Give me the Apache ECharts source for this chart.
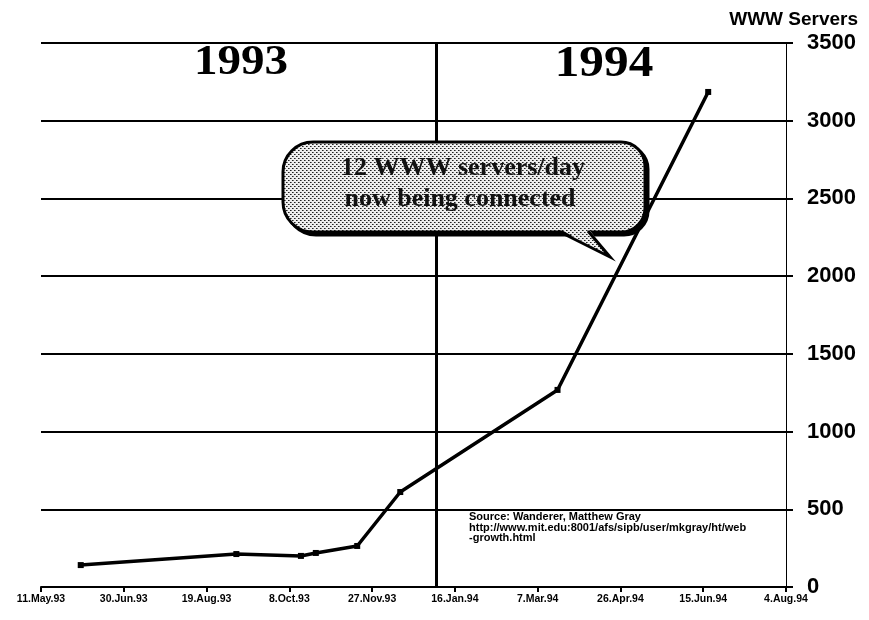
<!DOCTYPE html>
<html>
<head>
<meta charset="utf-8">
<script src="https://cdn.jsdelivr.net/npm/echarts@6/dist/echarts.min.js"></script>
<style>
  html, body { margin: 0; padding: 0; background: #fff; }
  #chart { width: 869px; height: 620px; }
</style>
</head>
<body>
<div id="chart"></div>
<script>
// WWW servers growth, 1993-1994 (Matthew Gray's Wanderer)
const startDate = '1993-05-11';
const pointDates = ['1993-06-04', '1993-09-06', '1993-10-15', '1993-10-24', '1993-11-18', '1993-12-14', '1994-03-19', '1994-06-18'];
const serverCounts = [141, 212, 200, 219, 264, 611, 1268, 3185];
const tickLabels = ['11.May.93', '30.Jun.93', '19.Aug.93', '8.Oct.93', '27.Nov.93', '16.Jan.94', '7.Mar.94', '26.Apr.94', '15.Jun.94', '4.Aug.94'];
const dividerDate = '1994-01-05';
const yearLabels = ['1993', '1994'];
const calloutLines = ['12 WWW servers/day', 'now being connected'];
const sourceLines = ['Source: Wanderer, Matthew Gray', 'http://www.mit.edu:8001/afs/sipb/user/mkgray/ht/web', '-growth.html'];

function dayOf(s) {
    const p = s.split('-').map(Number);
    const q = startDate.split('-').map(Number);
    return (Date.UTC(p[0], p[1] - 1, p[2]) - Date.UTC(q[0], q[1] - 1, q[2])) / 86400000;
}

// stippled fill for the speech bubble
function dotPattern() {
    const c = document.createElement('canvas');
    c.width = 4; c.height = 4;
    const ctx = c.getContext('2d');
    ctx.fillStyle = '#eeeeee';
    ctx.fillRect(0, 0, 4, 4);
    ctx.fillStyle = '#222';
    ctx.fillRect(0, 0, 1, 1);
    ctx.fillRect(2, 2, 1, 1);
    ctx.fillStyle = '#777';
    ctx.fillRect(1, 0, 1, 1);
    ctx.fillRect(3, 2, 1, 1);
    return { image: c, repeat: 'repeat' };
}

const chart = echarts.init(document.getElementById('chart'));
const seriesData = pointDates.map((d, i) => [dayOf(d), serverCounts[i]]);
const dots = dotPattern();

const bubbleRect = { x: 283, y: 142, width: 362, height: 90, r: [30, 24, 24, 30] };
const tailFill = [[558, 228], [610, 257], [588, 228]];
const tailEdge = [[558, 231], [610, 257], [588, 231]];

const option = {
    animation: false,
    backgroundColor: '#fff',
    grid: { left: 41, right: 83, top: 43, bottom: 33 },
    xAxis: {
        type: 'value',
        min: 0,
        max: 450,
        interval: 50,
        axisLine: { show: true, lineStyle: { color: '#000', width: 2 } },
        axisTick: { show: true, length: 5, lineStyle: { color: '#000', width: 2 } },
        splitLine: { show: false },
        axisLabel: {
            color: '#000',
            fontFamily: 'Liberation Sans',
            fontWeight: 'bold',
            fontSize: 10.5,
            margin: 7,
            formatter: v => tickLabels[Math.round(v / 50)] || ''
        }
    },
    yAxis: {
        type: 'value',
        position: 'right',
        min: 0,
        max: 3500,
        interval: 500,
        axisLine: { show: true, onZero: false, lineStyle: { color: '#000', width: 1 } },
        axisTick: { show: true, length: 7, lineStyle: { color: '#000', width: 2 } },
        splitLine: { show: true, lineStyle: { color: '#000', width: 2 } },
        axisLabel: {
            color: '#000',
            fontFamily: 'Liberation Sans',
            fontWeight: 'bold',
            fontSize: 22,
            margin: 21,
            formatter: v => String(v)
        }
    },
    series: [{
        type: 'line',
        data: seriesData,
        symbol: 'rect',
        symbolSize: 6,
        itemStyle: { color: '#000' },
        lineStyle: { color: '#000', width: 3.5 },
        markLine: {
            silent: true,
            symbol: 'none',
            label: { show: false },
            lineStyle: { color: '#000', width: 3, type: 'solid' },
            data: [{ xAxis: dayOf(dividerDate) }]
        },
        z: 3
    }],
    graphic: [
        {
            type: 'text', right: 11, top: 10,
            style: { text: 'WWW Servers', fill: '#000', font: 'bold 19px "Liberation Sans"' }
        },
        {
            type: 'text', x: 241, y: 63, scaleX: 1.12,
            style: { text: yearLabels[0], fill: '#000', font: 'bold 42px "Liberation Serif"', align: 'center', verticalAlign: 'middle' }
        },
        {
            type: 'text', x: 604, y: 65, scaleX: 1.12,
            style: { text: yearLabels[1], fill: '#000', font: 'bold 44px "Liberation Serif"', align: 'center', verticalAlign: 'middle' }
        },
        // drop shadow of the bubble
        {
            type: 'rect', x: 3, y: 3, z: 10,
            shape: bubbleRect,
            style: { fill: '#000', stroke: '#000', lineWidth: 3 }
        },
        // bubble body and tail
        {
            type: 'rect', z: 11,
            shape: bubbleRect,
            style: { fill: dots, stroke: '#000', lineWidth: 3 }
        },
        {
            type: 'polygon', z: 12,
            shape: { points: tailFill },
            style: { fill: dots }
        },
        {
            type: 'polyline', z: 13,
            shape: { points: tailEdge },
            style: { stroke: '#000', lineWidth: 3, lineJoin: 'miter', fill: null }
        },
        {
            type: 'text', x: 463, y: 168, z: 14,
            style: {
                text: calloutLines[0], fill: '#111', font: 'bold 26px "Liberation Serif"',
                align: 'center', verticalAlign: 'middle',
                textShadowColor: '#fff', textShadowOffsetX: -1, textShadowOffsetY: -1, textShadowBlur: 0
            }
        },
        {
            type: 'text', x: 460, y: 199, z: 14,
            style: {
                text: calloutLines[1], fill: '#111', font: 'bold 26px "Liberation Serif"',
                align: 'center', verticalAlign: 'middle',
                textShadowColor: '#fff', textShadowOffsetX: -1, textShadowOffsetY: -1, textShadowBlur: 0
            }
        },
        {
            type: 'text', x: 469, y: 512, z: 14,
            style: { text: sourceLines.join('\n'), fill: '#000', font: 'bold 11px "Liberation Sans"', lineHeight: 10.5 }
        }
    ]
};

chart.setOption(option);
window.addEventListener('resize', () => chart.resize());
</script>
</body>
</html>
